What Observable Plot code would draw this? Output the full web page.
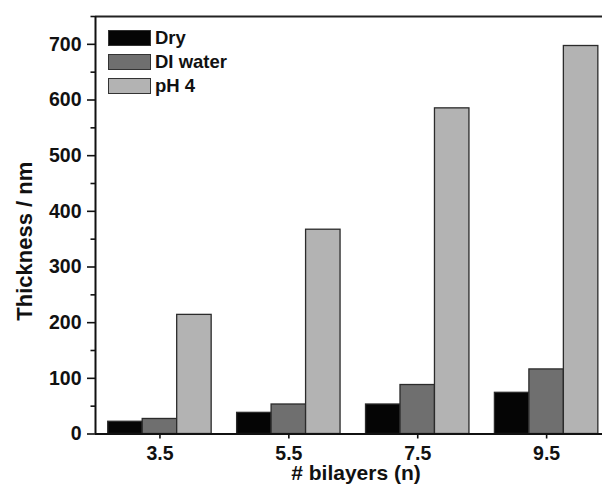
<!DOCTYPE html>
<html>
<head>
<meta charset="utf-8">
<script src="https://cdn.jsdelivr.net/npm/d3@7"></script>
<script src="https://cdn.jsdelivr.net/npm/@observablehq/plot@0.6"></script>
<style>
  body { margin: 0; background: #fff; }
  #chart { position: relative; width: 602px; height: 486px; font-family: "Liberation Sans", Arial, sans-serif; font-weight: bold; }
  .legend { position: absolute; left: 108px; top: 30px; }
  .legend .row { display: flex; align-items: center; height: 16.5px; margin-bottom: 7.5px; }
  .legend .sw { width: 41px; height: 14px; border: 1.5px solid #333; margin-right: 4px; }
  .legend span { font-size: 18.5px; color: #111; line-height: 16px; }
</style>
</head>
<body>
<div id="chart"></div>
<script>
// Film thickness per number of bilayers, measured dry, in DI water and at pH 4
const bilayers = [3.5, 5.5, 7.5, 9.5];
const tickLabels = ["3.5", "5.5", "7.5", "9.5"];
const seriesNames = ["Dry", "DI water", "pH 4"];
const dry = [22, 38, 53, 74];
const diWater = [27, 53, 88, 116];
const ph4 = [214, 367, 585, 697];
const seriesColors = ["#050505", "#6f6f6f", "#b3b3b3"];
const yMajorTicks = [0, 100, 200, 300, 400, 500, 600, 700];
const yMinorTicks = [50, 150, 250, 350, 450, 550, 650, 750];

const values = [dry, diWater, ph4];
const rows = seriesNames.flatMap((series, i) =>
  bilayers.map((n, j) => ({n, series, index: i, value: values[i][j]}))
);

// width of one bar in x units; three bars sit side by side around each n
const barWidth = 0.535;
const xDomain = [2.5, 10.367];
const yDomain = [0, 750];

const plot = Plot.plot({
  width: 602,
  height: 486,
  marginLeft: 95,
  marginRight: 0,
  marginTop: 16,
  marginBottom: 52.5,
  style: {fontFamily: "Liberation Sans, Arial, sans-serif", fontWeight: "bold", color: "#111", background: "#fff"},
  x: {domain: xDomain},
  y: {domain: yDomain},
  color: {domain: seriesNames, range: seriesColors},
  marks: [
    Plot.rect(rows, {
      x1: d => d.n + (d.index - 1.5) * barWidth,
      x2: d => d.n + (d.index - 0.5) * barWidth,
      y1: 0,
      y2: "value",
      fill: "series",
      stroke: "#2b2b2b",
      strokeWidth: 1.3
    }),
    Plot.ruleY([yDomain[0]], {stroke: "#111", strokeWidth: 2}),
    Plot.ruleY([yDomain[1]], {stroke: "#222", strokeWidth: 2}),
    Plot.ruleX([xDomain[0]], {stroke: "#111", strokeWidth: 2}),
    Plot.axisY({ticks: yMajorTicks, tickSize: 8, tickPadding: 6, fontSize: 19.5, strokeWidth: 1.6, label: null}),
    Plot.axisY({ticks: yMinorTicks, tickSize: 4.5, tickFormat: () => "", strokeWidth: 1.6, label: null}),
    Plot.axisX({ticks: bilayers, tickFormat: d => tickLabels[bilayers.indexOf(d)], tickSize: 5, tickPadding: 7, fontSize: 19.5, strokeWidth: 1.6, label: null}),
    Plot.text(["# bilayers (n)"], {text: d => d, frameAnchor: "bottom", lineAnchor: "bottom", dx: 7, dy: 45.5, fontSize: 21, fontWeight: "bold", fill: "#111"}),
    Plot.text(["Thickness / nm"], {text: d => d, frameAnchor: "left", textAnchor: "middle", rotate: -90, lineAnchor: "bottom", dx: -64, dy: 16, fontSize: 22, fontWeight: "bold", fill: "#111"})
  ]
});

const chart = document.getElementById("chart");
chart.appendChild(plot);

// legend drawn over the upper-left corner of the plot area
const legend = document.createElement("div");
legend.className = "legend";
seriesNames.forEach((name, i) => {
  const row = document.createElement("div");
  row.className = "row";
  const sw = document.createElement("div");
  sw.className = "sw";
  sw.style.background = seriesColors[i];
  const label = document.createElement("span");
  label.textContent = name;
  row.appendChild(sw);
  row.appendChild(label);
  legend.appendChild(row);
});
chart.appendChild(legend);
</script>
</body>
</html>
